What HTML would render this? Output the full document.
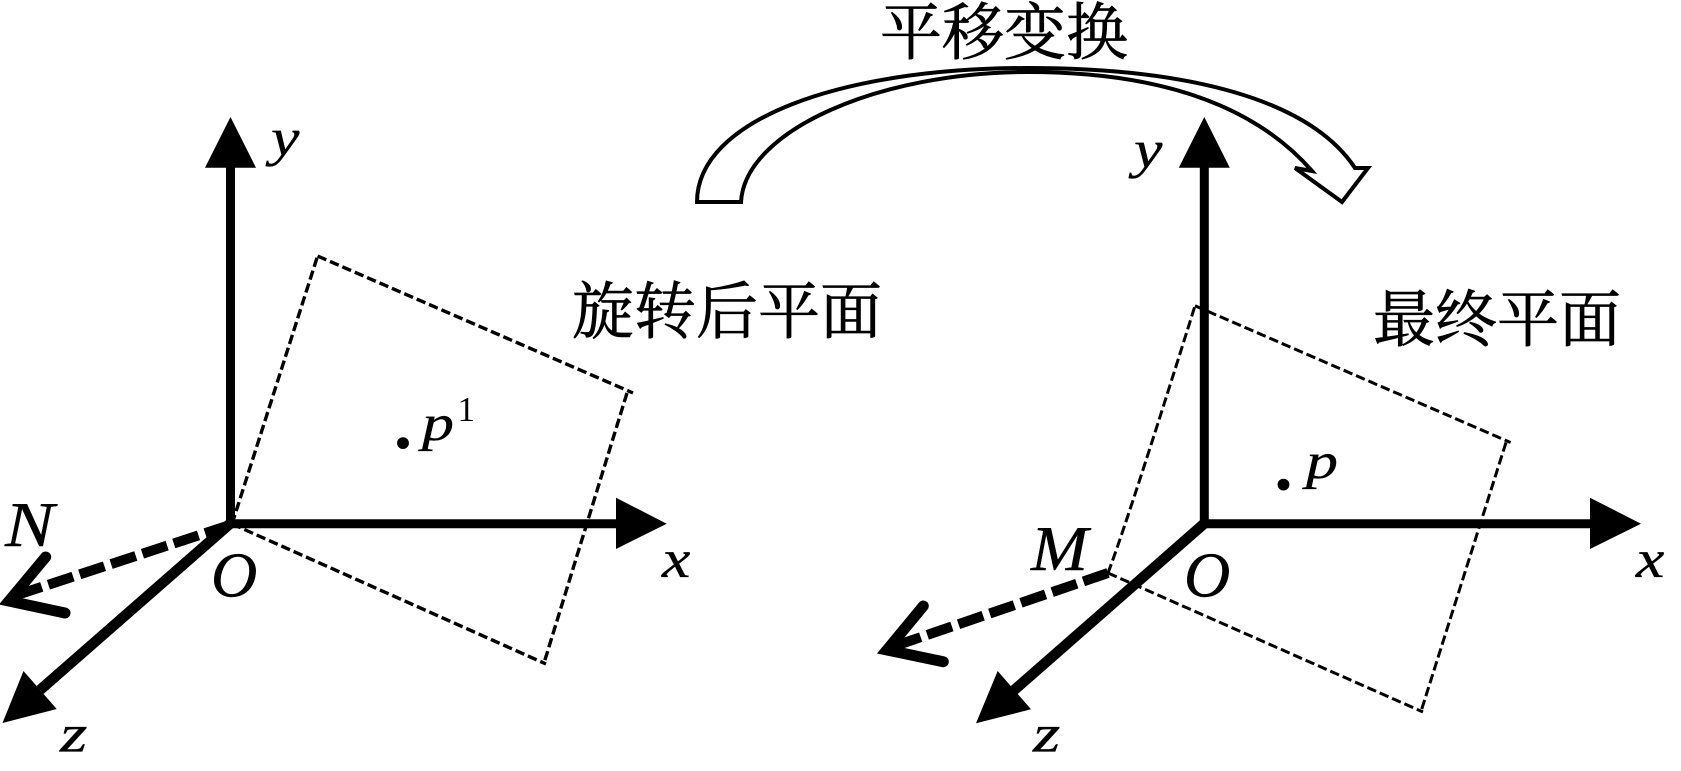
<!DOCTYPE html>
<html><head><meta charset="utf-8"><style>
html,body{margin:0;padding:0;background:#fff;width:1681px;height:771px;overflow:hidden}
svg{display:block}
.l{font-family:"Liberation Serif","Times New Roman",Times,serif;font-style:italic;font-size:64px;fill:#000;stroke:#000;stroke-width:.4}
.c{font-family:"Liberation Serif","Noto Serif CJK SC",serif;font-size:62px;fill:#000;stroke:#000;stroke-width:.7}
.p{stroke:#000;fill:none;stroke-width:3.400;stroke-dasharray:9.500 4}
</style></head><body>
<svg width="1681" height="771" viewBox="0 0 1681 771" xmlns="http://www.w3.org/2000/svg">
<rect width="1681" height="771" fill="#fff"/>

<!-- left planes -->
<path class="p" d="M232 524L317.600 256"/>
<path class="p" d="M317.600 256L633 393"/>
<path class="p" d="M627 393L544 663"/>
<path class="p" d="M232 524L546 664"/>

<!-- left axes -->
<g stroke="#000" stroke-width="9" fill="none">
<path d="M230.500 165V528"/>
<path d="M226 523.700H620"/>
</g>
<path d="M232 522L40 690" stroke="#000" stroke-width="10.500" fill="none"/>
<path d="M230.500 117L256 167.700H205L230.500 117Z"/>
<path d="M666.700 523.700L616 549V497.700Z"/>
<path d="M2.500 723L23.500 671L56.700 709Z"/>

<!-- N arrow -->
<path d="M227 526L14 596" stroke="#000" stroke-width="10" fill="none" stroke-dasharray="23 7 26 7 26 7 26 7 26 7 26 7 26 7"/>
<path d="M45.700 557L9 601L65 613" stroke="#000" stroke-width="11" fill="none" stroke-linecap="round" stroke-linejoin="miter"/>

<!-- right planes -->
<path class="p" style="stroke-width:3" d="M1108 573Q1128 520 1195 305.800"/>
<path class="p" style="stroke-width:3" d="M1195 305.800L1510.600 442.500"/>
<path class="p" style="stroke-width:3" d="M1506 442.500L1421 711.400"/>
<path class="p" style="stroke-width:3" d="M1108 573L1423 712"/>

<!-- right axes -->
<g stroke="#000" stroke-width="9" fill="none">
<path d="M1204.300 165V528"/>
<path d="M1200 523.700H1594"/>
</g>
<path d="M1206 522L1012 692" stroke="#000" stroke-width="10.500" fill="none"/>
<path d="M1204.300 117L1229.800 167.700H1178.800Z"/>
<path d="M1641 523.700L1590 549V497.700Z"/>
<path d="M976 723.300L997.700 671L1031 709.300Z"/>

<!-- M arrow -->
<path d="M1108 573L892 647" stroke="#000" stroke-width="10" fill="none" stroke-dasharray="26 7 26 7 26 7 26 7 26 7 26 7 26 7"/>
<path d="M923.300 606L887 650L943.300 661.700" stroke="#000" stroke-width="11" fill="none" stroke-linecap="round" stroke-linejoin="miter"/>

<!-- curved block arrow -->
<path d="M697 202C697 120 840 68 1028 68C1190 68 1310 100 1355 168H1368L1342 202L1295 168L1312 171C1250 100 1150 72 1028 72C880 72 745 130 741 202Z" fill="#fff" stroke="#000" stroke-width="4" stroke-linejoin="miter"/>

<!-- CJK labels -->
<text class="c" x="880" y="54">平移变换</text>
<text class="c" x="572" y="333">旋转后平面</text>
<text class="c" x="1373" y="341">最终平面</text>

<!-- left labels -->
<text class="l" transform="translate(271 155) scale(1 .82)">y</text>
<text class="l" transform="translate(662 577) scale(1 .85)">x</text>
<text class="l" x="211" y="596.500">O</text>
<text class="l" transform="translate(60 751.700) scale(1.100 .82)">z</text>
<text class="l" transform="translate(5 546) scale(1.150 1)">N</text>
<text x="390.500" y="447.500" style="font-family:'Liberation Serif',serif;font-size:100px">.</text>
<text class="l" transform="translate(422 440) scale(1 .8)">p</text>
<text x="457.500" y="421" style="font-family:'Liberation Serif',serif;font-size:35px">1</text>

<!-- right labels -->
<text class="l" transform="translate(1134 167) scale(1 .82)">y</text>
<text class="l" transform="translate(1636 577) scale(1 .85)">x</text>
<text class="l" x="1184" y="596.500">O</text>
<text class="l" transform="translate(1033 751.700) scale(1.100 .82)">z</text>
<text class="l" transform="translate(1031 570) scale(1.070 1)">M</text>
<text x="1271" y="489" style="font-family:'Liberation Serif',serif;font-size:100px">.</text>
<text class="l" transform="translate(1306 478) scale(1 .8)">p</text>
</svg>
</body></html>
